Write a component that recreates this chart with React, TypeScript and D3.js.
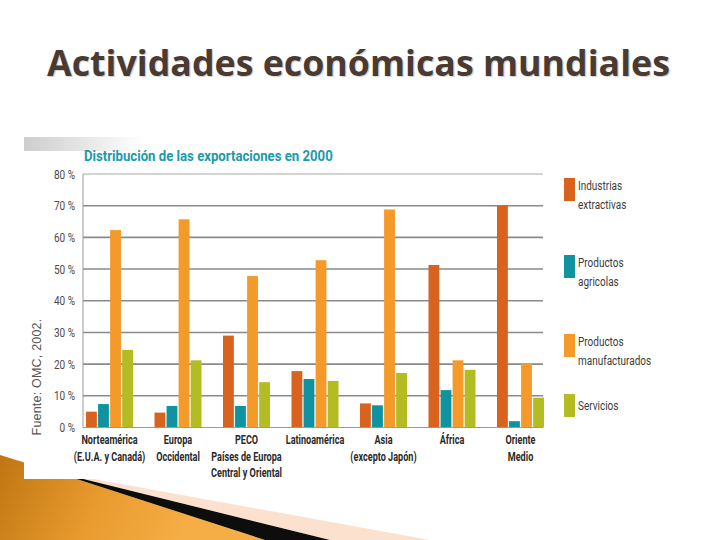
import { useRef, useEffect } from "react";
import * as d3 from "d3";

const categories = [
  "Norteamérica",
  "Europa Occidental",
  "PECO",
  "Latinoamérica",
  "Asia",
  "África",
  "Oriente Medio",
];
const categoryLines = [
  ["Norteamérica", "(E.U.A. y Canadá)"],
  ["Europa", "Occidental"],
  ["PECO", "Países de Europa", "Central y Oriental"],
  ["Latinoamérica"],
  ["Asia", "(excepto Japón)"],
  ["África"],
  ["Oriente", "Medio"],
];

const series = ["extractivas", "agricolas", "manufacturados", "servicios"];
const seriesLabels = [
  ["Industrias", "extractivas"],
  ["Productos", "agricolas"],
  ["Productos", "manufacturados"],
  ["Servicios"],
];
const seriesColors = ["#d9621f", "#0f93a1", "#f39a2b", "#b3bc22"];

const extractivas = [5, 4.7, 29, 17.8, 7.6, 51.3, 70];
const agricolas = [7.4, 6.8, 6.8, 15.3, 7, 11.8, 2];
const manufacturados = [62.3, 65.7, 47.8, 52.8, 68.8, 21.2, 20.3];
const servicios = [24.5, 21.2, 14.3, 14.7, 17.2, 18.2, 9.4];

const yTicks = [0, 10, 20, 30, 40, 50, 60, 70, 80];

const COND = "Roboto, 'DejaVu Sans', sans-serif";

export default function App() {
  const svgRef = useRef<SVGSVGElement>(null);

  useEffect(() => {
    if (!svgRef.current) return;
    const svg = d3.select(svgRef.current);
    svg.selectAll("*").remove();

    const values = [extractivas, agricolas, manufacturados, servicios];

    // narrow text: the reference uses a condensed face
    const narrow = (
      parent: d3.Selection<any, unknown, null, undefined>,
      x: number,
      y: number,
      sx: number,
      txt: string
    ) =>
      parent
        .append("text")
        .attr("transform", `translate(${x},${y}) scale(${sx},1)`)
        .attr("font-family", COND)
        .text(txt);

    // slide decoration, bottom-left
    const defs = svg.append("defs");
    const grad = defs
      .append("linearGradient")
      .attr("id", "orangeGrad")
      .attr("gradientUnits", "userSpaceOnUse")
      .attr("x1", 0)
      .attr("y1", 455)
      .attr("x2", 180)
      .attr("y2", 540);
    grad.append("stop").attr("offset", "0%").attr("stop-color", "#c07512");
    grad.append("stop").attr("offset", "55%").attr("stop-color", "#e99b2e");
    grad.append("stop").attr("offset", "100%").attr("stop-color", "#f5ad45");

    const shade = defs
      .append("linearGradient")
      .attr("id", "shadeGrad")
      .attr("x1", 0)
      .attr("y1", 0)
      .attr("x2", 1)
      .attr("y2", 0);
    shade.append("stop").attr("offset", "0%").attr("stop-color", "#b8b8b8");
    shade.append("stop").attr("offset", "100%").attr("stop-color", "#ffffff");

    svg
      .append("path")
      .attr("d", "M55,472 L430,540 L330,540 Z")
      .attr("fill", "#fbe1ce");
    svg
      .append("path")
      .attr("d", "M0,455 L55,472 L265,540 L0,540 Z")
      .attr("fill", "url(#orangeGrad)");
    svg
      .append("path")
      .attr("d", "M55,472 L330,540 L265,540 Z")
      .attr("fill", "#0d0d0d");

    // chart picture background
    svg
      .append("rect")
      .attr("x", 24)
      .attr("y", 137)
      .attr("width", 640)
      .attr("height", 342)
      .attr("fill", "#fff");
    svg
      .append("rect")
      .attr("x", 24)
      .attr("y", 137)
      .attr("width", 120)
      .attr("height", 14)
      .attr("fill", "url(#shadeGrad)")
      .attr("opacity", 0.7);

    // slide title
    const title = "Actividades económicas mundiales";
    svg
      .append("text")
      .attr("x", 48.2)
      .attr("y", 77.2)
      .attr("textLength", 623)
      .attr("lengthAdjust", "spacingAndGlyphs")
      .attr("font-family", "'Open Sans', 'DejaVu Sans', sans-serif")
      .attr("font-weight", 700)
      .attr("font-size", 36)
      .attr("fill", "#d4d4d4")
      .text(title);
    svg
      .append("text")
      .attr("x", 47)
      .attr("y", 76)
      .attr("textLength", 623)
      .attr("lengthAdjust", "spacingAndGlyphs")
      .attr("font-family", "'Open Sans', 'DejaVu Sans', sans-serif")
      .attr("font-weight", 700)
      .attr("font-size", 36)
      .attr("fill", "#4a3a31")
      .text(title);

    // scales
    const x0 = d3
      .scaleBand<string>()
      .domain(categories)
      .range([83, 547])
      .paddingInner(0.314)
      .paddingOuter(0.044);
    const x1 = d3
      .scaleBand<string>()
      .domain(series)
      .range([0, x0.bandwidth()])
      .paddingInner(0.1);
    const y = d3.scaleLinear().domain([0, 80]).range([427.5, 174]);

    // chart title
    narrow(svg, 84, 161, 0.85, "Distribución de las exportaciones en 2000")
      .attr("font-weight", 700)
      .attr("font-size", 15.5)
      .attr("fill", "#1d9aa9");

    // grid
    const g = svg.append("g");
    g.selectAll("line.grid")
      .data(yTicks.filter((t) => t > 0))
      .join("line")
      .attr("x1", 83)
      .attr("x2", 543)
      .attr("y1", (d) => y(d))
      .attr("y2", (d) => y(d))
      .attr("stroke", (d) => (d === 80 ? "#a8a8a8" : "#8a8a8a"))
      .attr("stroke-width", (d) => (d === 80 ? 1 : 1.6));

    // y tick labels
    yTicks.forEach((t) => {
      narrow(g, 75, y(t) + 4.5, 0.8, `${t} %`)
        .attr("text-anchor", "end")
        .attr("font-size", 12.5)
        .attr("fill", "#4a4a4a");
    });

    // bars
    categories.forEach((c, ci) => {
      series.forEach((s, si) => {
        const v = values[si][ci];
        g.append("rect")
          .attr("x", (x0(c) ?? 0) + (x1(s) ?? 0))
          .attr("y", y(v))
          .attr("width", x1.bandwidth())
          .attr("height", y(0) - y(v))
          .attr("fill", seriesColors[si]);
      });
    });

    // axes lines
    g.append("line")
      .attr("x1", 83)
      .attr("x2", 83)
      .attr("y1", y(80))
      .attr("y2", y(0))
      .attr("stroke", "#9a9a9a")
      .attr("stroke-width", 1);
    g.append("line")
      .attr("x1", 83)
      .attr("x2", 543)
      .attr("y1", y(0))
      .attr("y2", y(0))
      .attr("stroke", "#9a9a9a")
      .attr("stroke-width", 1);

    // category labels
    categories.forEach((c, ci) => {
      const cx = (x0(c) ?? 0) + x0.bandwidth() / 2;
      categoryLines[ci].forEach((line, li) => {
        narrow(g, cx, 444 + li * 16.5, 0.7, line)
          .attr("text-anchor", "middle")
          .attr("font-weight", 700)
          .attr("font-size", 13)
          .attr("fill", "#2a2a2a");
      });
    });

    // source
    svg
      .append("text")
      .attr("transform", "translate(41,377) rotate(-90)")
      .attr("text-anchor", "middle")
      .attr("font-family", "'Liberation Sans', Arial, sans-serif")
      .attr("font-size", 12.5)
      .attr("letter-spacing", 0.2)
      .attr("fill", "#555")
      .text("Fuente: OMC, 2002.");

    // legend
    const legendTops = [178, 255, 334, 394];
    seriesLabels.forEach((lines, si) => {
      const top = legendTops[si];
      svg
        .append("rect")
        .attr("x", 564)
        .attr("y", top)
        .attr("width", 11)
        .attr("height", 23)
        .attr("fill", seriesColors[si]);
      const base = top + 11.5 + (lines.length === 1 ? 4.5 : 0);
      lines.forEach((line, li) => {
        narrow(svg, 578, base + li * 19, 0.74, line)
          .attr("font-size", 13.5)
          .attr("fill", "#3c3c3c");
      });
    });
  }, []);

  return (
    <svg
      ref={svgRef}
      width={720}
      height={540}
      viewBox="0 0 720 540"
      style={{ position: "absolute", left: 0, top: 0, background: "#fff" }}
    />
  );
}
